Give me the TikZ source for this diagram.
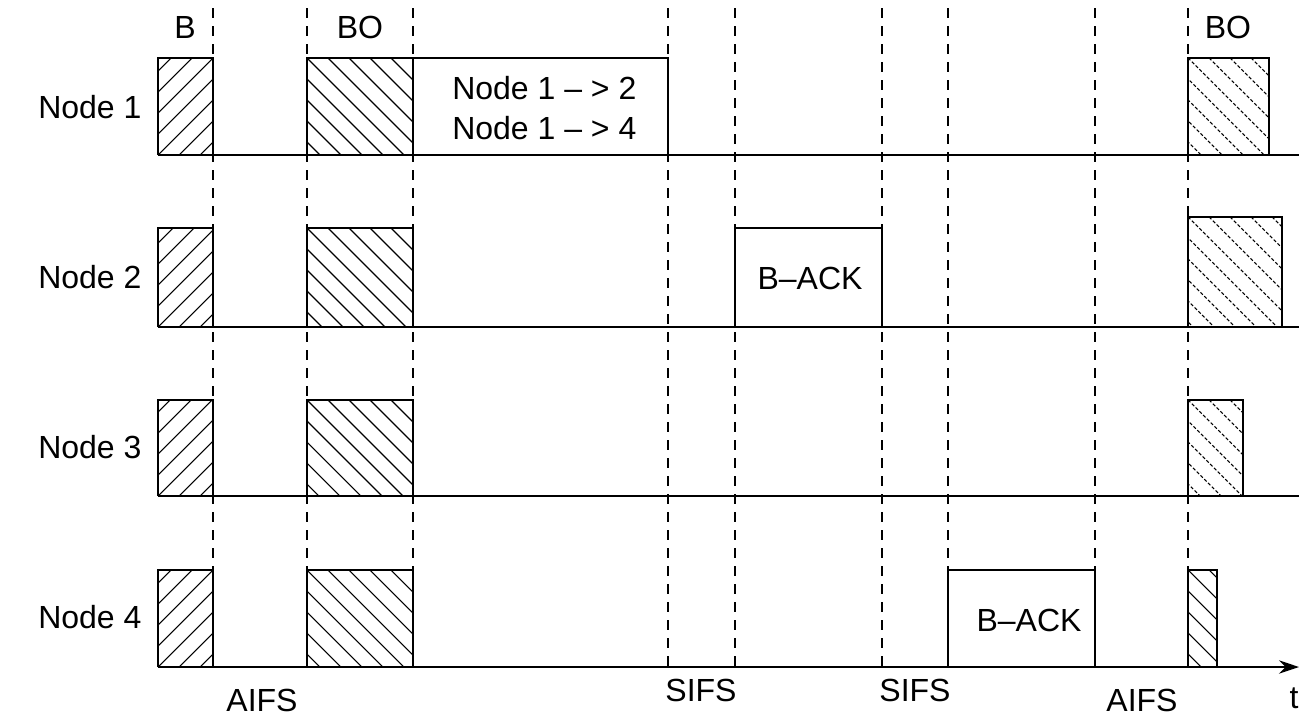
\documentclass[tikz,border=0pt]{standalone}
\usepackage{fontspec}
\setmainfont{Liberation Sans}
\usetikzlibrary{arrows.meta}
\begin{document}
\begin{tikzpicture}[x=0.75pt,y=-0.75pt,
  axisline/.style={line width=1.5pt},
  guide/.style={line width=1.4pt,dash pattern=on 7.5pt off 6pt},
  framebox/.style={line width=1.5pt},
  hatchline/.style={line width=0.8pt},
  dhatchline/.style={line width=0.8pt,dash pattern=on 2.5pt off 1.5pt},
  lbl/.style={inner sep=0pt,font=\fontsize{24}{28}\selectfont}]
\useasboundingbox (0,0) rectangle (1299,718);
% hatch helpers: #1 x1, #2 y1 (top), #3 x2, #4 y2 (bottom), #5 style
\newcommand{\hatchNE}[5]{%
  \begin{scope}\clip (#1,#2) rectangle (#3,#4);
  \foreach \s in {-126,-105,...,140}{\draw[#5] (#1+\s,#4) -- ++(130,-130);}
  \end{scope}}
\newcommand{\hatchNW}[5]{%
  \begin{scope}\clip (#1,#2) rectangle (#3,#4);
  \foreach \s in {-126,-105,...,140}{\draw[#5] (#1+\s,#2) -- ++(130,130);}
  \end{scope}}
% vertical dashed guides
\foreach \x in {213,307,413,668,735,882,948,1095,1188}{\draw[guide] (\x,8) -- (\x,667);}
% baselines
\foreach \y in {155,327,496}{\draw[axisline] (158,\y) -- (1299,\y);}
\draw[axisline,-{Stealth[length=15pt,width=10pt]}] (158,667) -- (1299,667);
% B and BO boxes in all four rows
\foreach \t/\b in {58/155,228/327,400/496,570/667}{
  \hatchNE{158}{\t}{213}{\b}{hatchline}
  \draw[framebox] (158,\b) -- (158,\t) -- (213,\t) -- (213,\b);
  \hatchNW{307}{\t}{413}{\b}{hatchline}
  \draw[framebox] (307,\b) -- (307,\t) -- (413,\t) -- (413,\b);
}
% Node 1 data frame
\draw[framebox] (413,58) -- (668,58) -- (668,155);
% B-ACK frames
\draw[framebox] (735,327) -- (735,228) -- (882,228) -- (882,327);
\draw[framebox] (948,667) -- (948,570) -- (1095,570) -- (1095,667);
% right-hand BO boxes
\hatchNW{1188}{58}{1269}{155}{dhatchline}
\draw[framebox] (1188,155) -- (1188,58) -- (1269,58) -- (1269,155);
\hatchNW{1188}{217}{1282}{327}{dhatchline}
\draw[framebox] (1188,327) -- (1188,217) -- (1282,217) -- (1282,327);
\hatchNW{1188}{400}{1243}{496}{dhatchline}
\draw[framebox] (1188,496) -- (1188,400) -- (1243,400) -- (1243,496);
\hatchNW{1188}{570}{1217}{667}{hatchline}
\draw[framebox] (1188,667) -- (1188,570) -- (1217,570) -- (1217,667);
% labels
\node[lbl] (lB) at (185,27) {B};
\node[lbl] (lBO1) at (360,27) {BO};
\node[lbl] (lBO2) at (1228,27) {BO};
\node[lbl,anchor=west] (n1) at (38,107) {Node 1};
\node[lbl,anchor=west] (n2) at (38,277) {Node 2};
\node[lbl,anchor=west] (n3) at (38,447) {Node 3};
\node[lbl,anchor=west] (n4) at (38,617) {Node 4};
\node[lbl,anchor=west] (d1) at (452,88) {Node 1 – > 2};
\node[lbl,anchor=west] (d2) at (452,128) {Node 1 – > 4};
\node[lbl] (ack1) at (810,278) {B–ACK};
\node[lbl] (ack2) at (1029,620) {B–ACK};
\node[lbl] (aifs1) at (262,700) {AIFS};
\node[lbl] (sifs1) at (701,690) {SIFS};
\node[lbl] (sifs2) at (915,690) {SIFS};
\node[lbl] (aifs2) at (1142,700) {AIFS};
\node[lbl] (tlab) at (1294,698) {t};
\end{tikzpicture}
\end{document}
